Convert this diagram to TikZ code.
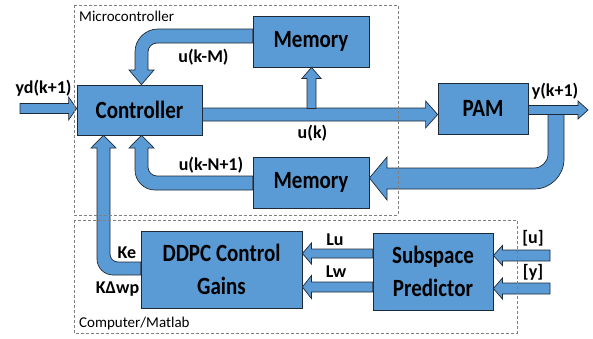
\documentclass[tikz,border=0pt]{standalone}
\usepackage{fontspec}
\setmainfont{Carlito}
\usepackage{graphicx}
\usetikzlibrary{calc}
\definecolor{boxblue}{HTML}{5B9BD5}
\definecolor{edge}{HTML}{1F2A38}
\definecolor{dashgray}{HTML}{7F7F7F}
\newcommand\bt[1]{\scalebox{1}[1.18]{#1}}
% horizontal fat arrow: start, tip, shaft half width, head half width, head length (signed)
\newcommand\fatH[5]{\path[fat] ($(#1)+(0,{-(#3)})$) -- ($(#2)+({-(#5)},{-(#3)})$) -- ($(#2)+({-(#5)},{-(#4)})$) -- (#2) -- ($(#2)+({-(#5)},{#4})$) -- ($(#2)+({-(#5)},{#3})$) -- ($(#1)+(0,{#3})$) -- cycle;}
% vertical (upward) fat arrow: start, tip, shaft half width, head half width, head length
\newcommand\fatV[5]{\path[fat] ($(#1)+({-(#3)},0)$) -- ($(#2)+({-(#3)},{#5})$) -- ($(#2)+({-(#4)},{#5})$) -- (#2) -- ($(#2)+({#4},{#5})$) -- ($(#2)+({#3},{#5})$) -- ($(#1)+({#3},0)$) -- cycle;}
\begin{document}
\begin{tikzpicture}[x=1pt,y=-1pt,
  blk/.style={draw=edge, fill=boxblue, line width=0.8pt, inner sep=0pt, align=center,
    font=\fontsize{21}{33}\selectfont\bfseries},
  fat/.style={draw=edge, fill=boxblue, line width=0.7pt, line join=miter},
  lbl/.style={font=\fontsize{18}{20}\selectfont\bfseries, inner sep=0pt},
  region/.style={draw=dashgray, line width=0.6pt, dash pattern=on 3pt off 2pt},
  rlbl/.style={font=\fontsize{15}{17}\selectfont, anchor=west, inner sep=0pt}]
\useasboundingbox (0,0) rectangle (593,338);
\fill[white] (0,0) rectangle (593,338);

% blocks
\node[blk, minimum width=125pt, minimum height=50pt] (ctrl) at (139.5,110) {\bt{Controller}};
\node[blk, minimum width=116pt, minimum height=51pt] (memT) at (311,41.5) {\bt{Memory}};
\node[blk, minimum width=90pt, minimum height=51pt] (pam) at (483,108.5) {\bt{PAM}};
\node[blk, minimum width=116pt, minimum height=51pt] (memB) at (311,182.5) {\bt{Memory}};
\node[blk, minimum width=161pt, minimum height=77pt] (ddpc) at (221.5,269.5) {\bt{DDPC Control}\\\bt{Gains}};
\node[blk, minimum width=120pt, minimum height=77pt] (sub) at (433,271.5) {\bt{Subspace}\\\bt{Predictor}};

% connector end points
\coordinate (ydin) at (20,108.5);
\coordinate (ydtip) at ($(ctrl.west)+(0,-1.5)$);
\coordinate (uk0) at ($(ctrl.east)+(0,4.5)$);
\coordinate (uk1) at ($(pam.west)+(0,6)$);
\coordinate (j1) at (311.5,108.5);
\coordinate (memTin) at ($(memT.south)+(0.5,0)$);
\coordinate (yk0) at ($(pam.east)+(0,1.5)$);
\coordinate (yout) at (588,110);
\coordinate (lu0) at ($(sub.west)+(0,-18)$);
\coordinate (lu1) at ($(ddpc.east)+(0,-16)$);
\coordinate (lw0) at ($(sub.west)+(0,15.5)$);
\coordinate (lw1) at ($(ddpc.east)+(0,17.5)$);
\coordinate (uin) at (550,255.5);
\coordinate (utip) at ($(sub.east)+(0,-16)$);
\coordinate (yin) at (550,288.5);
\coordinate (ytip) at ($(sub.east)+(0,17)$);

% straight fat arrows
\fatH{ydin}{ydtip}{5}{11.5}{8}
\fatH{uk0}{uk1}{6.5}{13.5}{12}
\fatV{j1}{memTin}{4.5}{9.5}{11}
\fatH{yk0}{yout}{4.5}{9}{10}
\fatH{lu0}{lu1}{4.5}{10.5}{-9}
\fatH{lw0}{lw1}{5}{11.5}{-9}
\fatH{uin}{utip}{5.5}{10}{-9}
\fatH{yin}{ytip}{5.5}{10.5}{-9}

% u(k-M): Memory (top) -> Controller
\path[fat] ($(memT.west)+(0,-12.5)$) -- (158,29) .. controls (145.3,29) and (135,39.3) .. (135,52)
  -- (135,70) -- (129,70) -- ($(ctrl.north)+(2,0)$) -- (154,70) -- (148,70) -- (148,52)
  .. controls (148,47) and (152,43) .. (157,43) -- ($(memT.west)+(0,1.5)$) -- cycle;

% u(k-N+1): Memory (bottom) -> Controller
\path[fat] ($(memB.west)+(0,-6.5)$) -- (157,176) .. controls (152,176) and (148,172) .. (148,167)
  -- (148,148) -- (154,148) -- ($(ctrl.south)+(2,0)$) -- (129,148) -- (135,148) -- (135,170)
  .. controls (135,181) and (144,190) .. (155,190) -- ($(memB.west)+(0,7.5)$) -- cycle;

% Ke / KDwp: DDPC -> Controller
\path[fat] ($(ddpc.west)+(0,-7.5)$) -- (118,262) .. controls (113.6,262) and (110,258.4) .. (110,254)
  -- (110,148) -- (116,148) -- ($(ctrl.south)+(-36,0)$) -- (91,148) -- (97,148) -- (97,259)
  .. controls (97,267.8) and (104.2,275) .. (113,275) -- ($(ddpc.west)+(0,5.5)$) -- cycle;

% y(k+1) feedback: PAM output -> Memory (bottom)
\coordinate (j2) at (556,114.5);
\path[fat] ($(j2)+(-8,0)$) -- (548,154) .. controls (548,161.7) and (541.7,168) .. (534,168)
  -- (387,168) -- (387,157) -- ($(memB.east)+(0,-4.5)$) -- (387,200) -- (387,189) -- (534,189)
  .. controls (550.6,189) and (564,175.6) .. (564,159) -- ($(j2)+(8,0)$) -- cycle;

% labels
\node[lbl] (tyd) at (43.5,88) {yd(k+1)};
\node[lbl] (tukm) at (203.5,57) {u(k-M)};
\node[lbl] (tuk) at (312.5,133) {u(k)};
\node[lbl] (tukn) at (211,165) {u(k-N+1)};
\node[lbl] (tyk) at (555,91) {y(k+1)};
\node[lbl] (tke) at (127,253) {Ke};
\node[lbl] (tkw) at (117.5,289) {KΔwp};
\node[lbl] (tlu) at (335,239.5) {Lu};
\node[lbl] (tlw) at (336,271.5) {Lw};
\node[lbl] (tu) at (533,238) {[u]};
\node[lbl] (ty) at (533,272) {[y]};

% regions
\draw[region] (74,5) rectangle (398,215);
\draw[region] (74,220) rectangle (517,333);
\node[rlbl] (rmc) at (79,16) {Microcontroller};
\node[rlbl] (rcm) at (79,323) {Computer/Matlab};
\end{tikzpicture}
\end{document}
